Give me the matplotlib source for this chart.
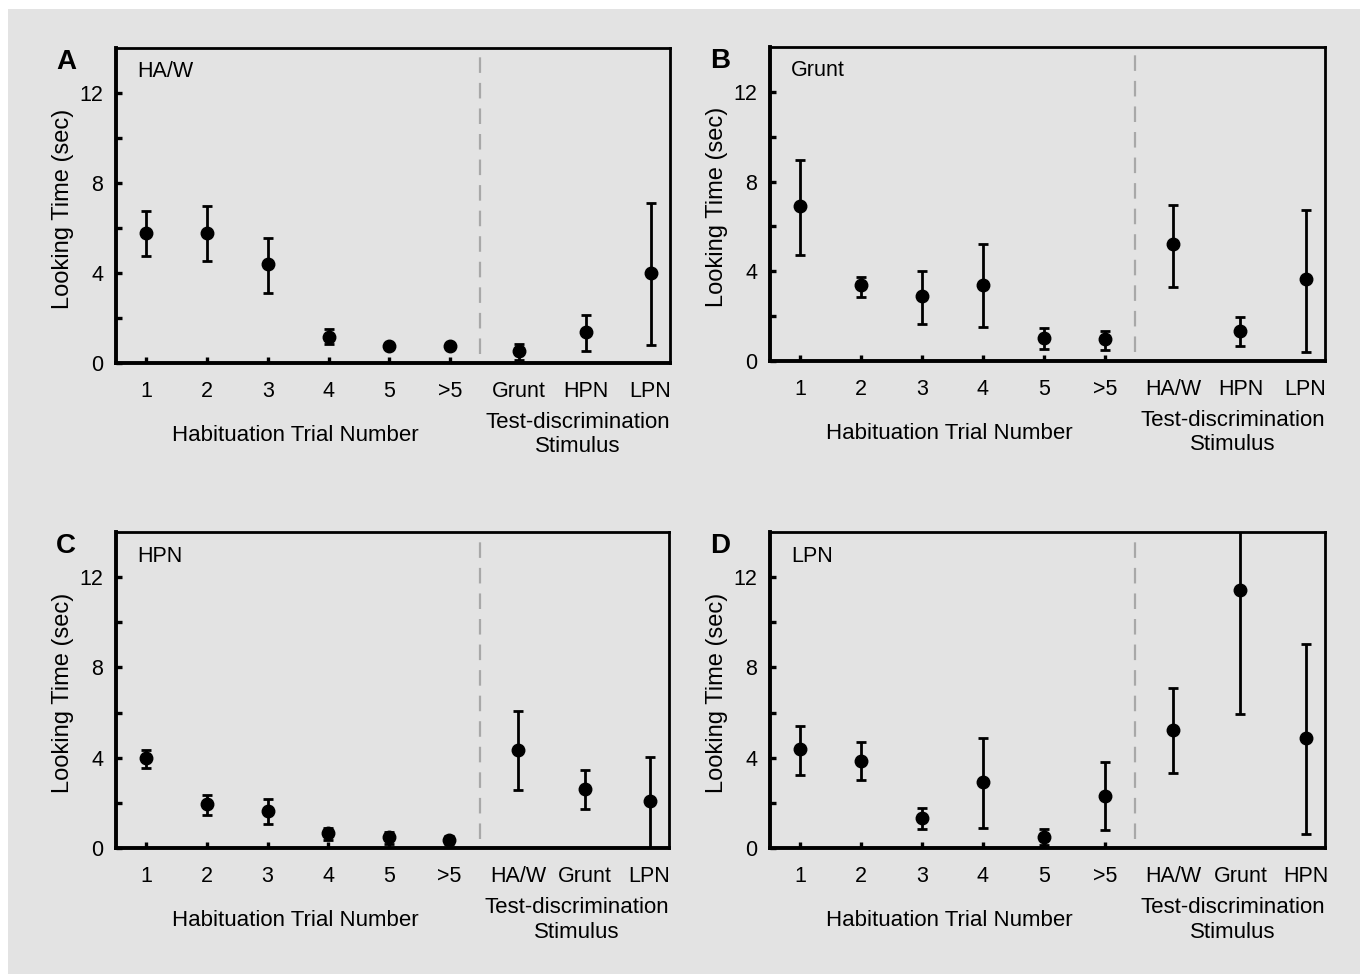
import numpy as np
import matplotlib.pyplot as plt
from matplotlib.patches import Rectangle
from matplotlib.ticker import FixedLocator

plt.rcParams['font.family'] = ['Liberation Sans', 'DejaVu Sans']

hab_labels = ['1', '2', '3', '4', '5', '>5']

# panel A: habituated to HA/W
a_title = 'HA/W'
a_test = ['Grunt', 'HPN', 'LPN']
a_mean = [5.77, 5.77, 4.38, 1.16, 0.74, 0.74, 0.52, 1.38, 4.01]
a_low = [4.75, 4.55, 3.09, 0.83, 0.62, 0.62, 0.15, 0.52, 0.82]
a_high = [6.75, 6.97, 5.56, 1.52, 0.86, 0.86, 0.86, 2.12, 7.10]

# panel B: habituated to Grunt
b_title = 'Grunt'
b_test = ['HA/W', 'HPN', 'LPN']
b_mean = [6.91, 3.38, 2.88, 3.38, 1.03, 0.97, 5.20, 1.35, 3.64]
b_low = [4.71, 2.84, 1.65, 1.52, 0.54, 0.48, 3.32, 0.65, 0.40]
b_high = [8.97, 3.76, 4.03, 5.20, 1.47, 1.32, 6.97, 1.95, 6.75]

# panel C: habituated to HPN
c_title = 'HPN'
c_test = ['HA/W', 'Grunt', 'LPN']
c_mean = [3.99, 1.97, 1.64, 0.67, 0.49, 0.34, 4.36, 2.61, 2.07]
c_low = [3.56, 1.48, 1.07, 0.37, 0.18, 0.18, 2.55, 1.72, 0.0]
c_high = [4.36, 2.34, 2.19, 0.89, 0.71, 0.52, 6.07, 3.47, 4.04]

# panel D: habituated to LPN
d_title = 'LPN'
d_test = ['HA/W', 'Grunt', 'HPN']
d_mean = [4.37, 3.86, 1.31, 2.94, 0.49, 2.31, 5.25, 11.43, 4.87]
d_low = [3.25, 3.00, 0.82, 0.89, 0.13, 0.79, 3.31, 5.92, 0.60]
d_high = [5.42, 4.69, 1.77, 4.86, 0.85, 3.80, 7.08, 16.9, 9.02]

bg = '#e3e3e3'
fig = plt.figure(figsize=(13.6, 9.74), dpi=100, facecolor='white')
fig.patches.append(Rectangle((8 / 1360, 0), 1, 1 - 9 / 974, transform=fig.transFigure,
                             facecolor=bg, edgecolor='none', zorder=-10))

panels = [
    ('A', a_title, a_test, a_mean, a_low, a_high, [116, 48, 670, 363]),
    ('B', b_title, b_test, b_mean, b_low, b_high, [770, 47, 1325, 361]),
    ('C', c_title, c_test, c_mean, c_low, c_high, [116, 532, 669, 848]),
    ('D', d_title, d_test, d_mean, d_low, d_high, [770, 532, 1325, 848]),
]

W, H = 1360, 974
for letter, title, test, mean, low, high, box in panels:
    l, t, r, b = box
    ax = fig.add_axes([l / W, 1 - b / H, (r - l) / W, (b - t) / H])
    ax.set_facecolor(bg)
    x = list(range(1, 7)) + [7.13, 8.23, 9.3]
    mean = np.array(mean)
    yerr = [mean - np.array(low), np.array(high) - mean]
    ax.errorbar(x, mean, yerr=yerr, fmt='o', color='black', ms=9,
                elinewidth=2.0, capsize=3.6, capthick=2.0, zorder=3)
    ax.axvline(6.5, ymin=0.03, ymax=1, color='#a8a8a8', lw=1.6, dashes=(7, 4.5))
    ax.set_xlim(0.5, 9.62)
    ax.set_ylim(0, 14)
    ax.set_xticks(x)
    ax.set_xticklabels(hab_labels + test, fontsize=15.5)
    for tk in ax.xaxis.get_major_ticks()[6:]:
        tk.tick1line.set_visible(False)
    ax.set_yticks([0, 4, 8, 12])
    ax.yaxis.set_minor_locator(FixedLocator([2, 6, 10]))
    ax.tick_params(axis='both', which='both', direction='in', length=4, width=2.4,
                   labelsize=15.5, top=False, right=False)
    ax.tick_params(axis='x', pad=13)
    ax.tick_params(axis='y', pad=9)
    for side in ['left', 'bottom']:
        ax.spines[side].set_linewidth(2.8)
    for side in ['top', 'right']:
        ax.spines[side].set_linewidth(2.0)
    ax.set_ylabel('Looking Time (sec)', fontsize=17)
    ax.yaxis.set_label_coords(-0.076, 0.49)
    ax.text(3.45, -0.23, 'Habituation Trial Number', transform=ax.get_xaxis_transform(),
            ha='center', va='center', fontsize=16)
    ax.text(8.1, -0.228, 'Test-discrimination\nStimulus', transform=ax.get_xaxis_transform(),
            ha='center', va='center', fontsize=16, linespacing=1.2)
    ax.text(0.038, 0.924, title, transform=ax.transAxes, ha='left', va='center', fontsize=15.5)
    ax.text(-0.09, 0.955, letter, transform=ax.transAxes, ha='center', va='center',
            fontsize=20, fontweight='bold')

fig.savefig('out.png', dpi=100, facecolor=fig.get_facecolor())
